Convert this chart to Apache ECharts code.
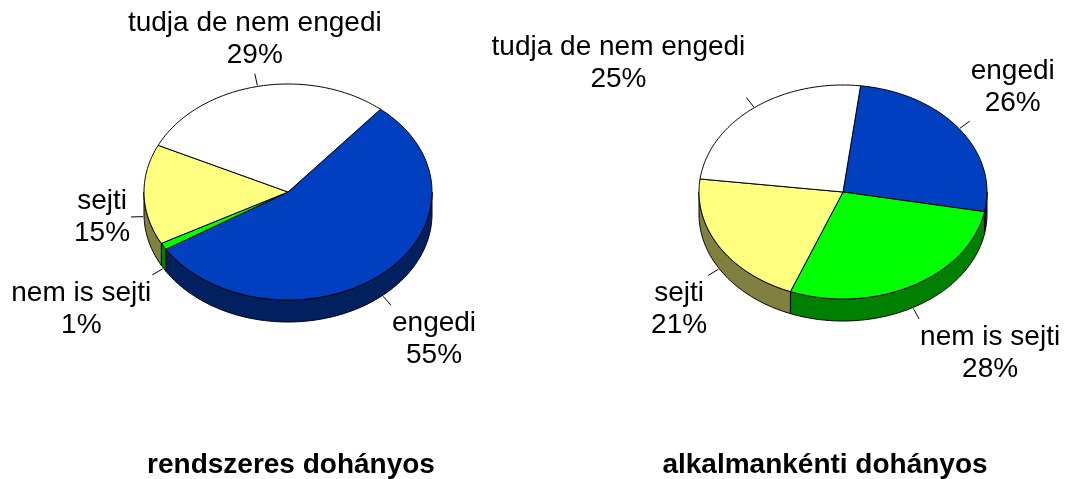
<!DOCTYPE html>
<html>
<head>
<meta charset="utf-8">
<script src="https://cdn.jsdelivr.net/npm/echarts@6/dist/echarts.min.js"></script>
<style>
  html, body { margin: 0; padding: 0; background: #fff; }
  #canvas { width: 1066px; height: 479px; }
</style>
</head>
<body>
<div id="canvas"></div>
<script>
// slices, clockwise from the start angle
const categories = ['engedi', 'nem is sejti', 'sejti', 'tudja de nem engedi'];
const rendszeres = [55, 1, 15, 29];
const alkalmankenti = [26, 28, 21, 25];
const chartTitles = ['rendszeres dohányos', 'alkalmankénti dohányos'];

const topColors = ['#0040c0', '#00ff00', '#ffff80', '#ffffff'];
const sideColors = ['#002060', '#008000', '#808040', '#808080'];

const labelFont = '28px "Liberation Sans", Arial, sans-serif';
const labelLineHeight = 32;

const measureCtx = document.createElement('canvas').getContext('2d');
function textWidth(s) {
    measureCtx.font = labelFont;
    return measureCtx.measureText(s).width;
}

// fake 3d pie: elliptic top face + visible side wall
function pieRenderer(values, pie) {
    const total = values.reduce((a, b) => a + b, 0);
    const starts = [];
    let acc = 0;
    values.forEach(v => { starts.push(acc); acc += v; });

    return function (params, api) {
        const i = params.dataIndex;
        const a0 = pie.startAngle + starts[i] / total * 360;
        const a1 = a0 + values[i] / total * 360;
        const pt = (a, dy) => {
            const r = a * Math.PI / 180;
            return [pie.cx + pie.rx * Math.sin(r), pie.cy - pie.ry * Math.cos(r) + (dy || 0)];
        };
        const arc = (s, e, dy) => {
            const n = Math.max(2, Math.ceil(Math.abs(e - s)));
            const out = [];
            for (let k = 0; k <= n; k++) out.push(pt(s + (e - s) * k / n, dy));
            return out;
        };

        const children = [];
        // side wall only where the rim faces the viewer (lower half)
        for (let k = -1; k <= 2; k++) {
            const s = Math.max(a0, 90 + 360 * k);
            const e = Math.min(a1, 270 + 360 * k);
            if (e > s) {
                children.push({
                    type: 'polygon', z2: 1,
                    shape: { points: arc(s, e, 0).concat(arc(e, s, pie.depth)) },
                    style: { fill: sideColors[i], stroke: '#000', lineWidth: 1 }
                });
            }
        }
        children.push({
            type: 'polygon', z2: 2,
            shape: { points: [[pie.cx, pie.cy]].concat(arc(a0, a1, 0)) },
            style: { fill: topColors[i], stroke: '#000', lineWidth: 1, lineJoin: 'round' }
        });

        // leader line + label
        const m = (a0 + a1) / 2;
        const rad = m * Math.PI / 180;
        const dx = Math.sin(rad), dy = -Math.cos(rad);
        const edge = pt(m, dy > 0 ? pie.depth : 0);
        const p1 = [edge[0] + dx * 1, edge[1] + dy * 1];
        const p2 = [edge[0] + dx * 13, edge[1] + dy * 13];
        children.push({
            type: 'line', z2: 3,
            shape: { x1: p1[0], y1: p1[1], x2: p2[0], y2: p2[1] },
            style: { stroke: '#000', lineWidth: 1 }
        });
        const pct = Math.round(values[i] / total * 100) + '%';
        const w = Math.max(textWidth(categories[i]), textWidth(pct));
        const h = labelLineHeight * 2;
        // box touches the line end with a corner, or an edge middle near the axes
        const sx = Math.abs(dx) < 0.3 ? 0 : Math.sign(dx);
        const sy = Math.abs(dy) < 0.3 ? 0 : Math.sign(dy);
        children.push({
            type: 'text', z2: 4,
            style: {
                text: categories[i] + '\n' + pct,
                x: p2[0] + sx * (w / 2 + 1),
                y: p2[1] + sy * (h / 2 + 2),
                align: 'center',
                verticalAlign: 'middle',
                font: labelFont,
                lineHeight: labelLineHeight,
                fill: '#000'
            }
        });
        return { type: 'group', children: children };
    };
}

const pies = [
    { values: rendszeres, cx: 288, cy: 192, rx: 144, ry: 108, depth: 22, startAngle: 40 },
    { values: alkalmankenti, cx: 843, cy: 192, rx: 144, ry: 107, depth: 22, startAngle: 7 }
];

var dom = document.getElementById('canvas');
var myChart = echarts.init(dom);
var option = {
    animation: false,
    backgroundColor: '#fff',
    title: [
        { text: chartTitles[0], left: 286, top: 446, textAlign: 'center' },
        { text: chartTitles[1], left: 820, top: 446, textAlign: 'center' }
    ].map(t => Object.assign(t, {
        textStyle: { fontFamily: 'Liberation Sans', fontSize: 28, fontWeight: 'bold', color: '#000' }
    })),
    series: pies.map(p => ({
        type: 'custom',
        coordinateSystem: 'none',
        silent: true,
        renderItem: pieRenderer(p.values, p),
        data: p.values
    }))
};
myChart.setOption(option);
</script>
</body>
</html>
